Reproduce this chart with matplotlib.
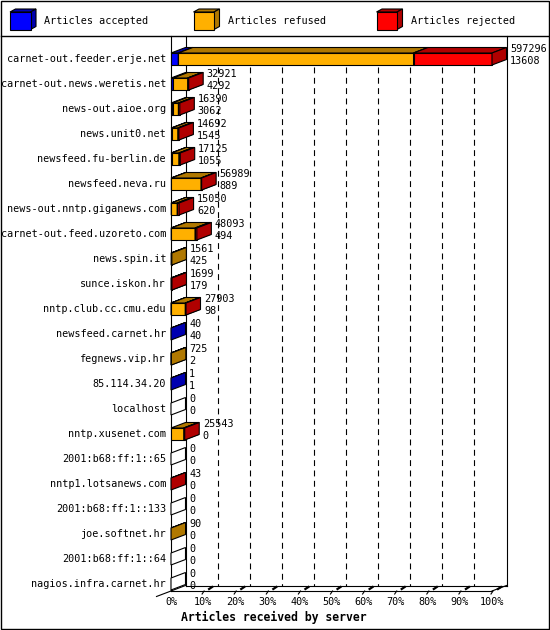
import matplotlib
matplotlib.use("Agg")
import matplotlib.pyplot as plt
from matplotlib.patches import Polygon, Rectangle
from matplotlib.lines import Line2D

# ---------------- data ----------------
hosts = [
    "carnet-out.feeder.erje.net", "carnet-out.news.weretis.net", "news-out.aioe.org",
    "news.unit0.net", "newsfeed.fu-berlin.de", "newsfeed.neva.ru",
    "news-out.nntp.giganews.com", "carnet-out.feed.uzoreto.com", "news.spin.it",
    "sunce.iskon.hr", "nntp.club.cc.cmu.edu", "newsfeed.carnet.hr", "fegnews.vip.hr",
    "85.114.34.20", "localhost", "nntp.xusenet.com", "2001:b68:ff:1::65",
    "nntp1.lotsanews.com", "2001:b68:ff:1::133", "joe.softnet.hr",
    "2001:b68:ff:1::64", "nagios.infra.carnet.hr",
]
offered = [597296, 32921, 16390, 14692, 17125, 56989, 15050, 48093, 1561, 1699,
           27903, 40, 725, 1, 0, 25543, 0, 43, 0, 90, 0, 0]
accepted = [13608, 4292, 3062, 1545, 1055, 889, 620, 494, 425, 179,
            98, 40, 2, 1, 0, 0, 0, 0, 0, 0, 0, 0]
rejected = [146000, 1900, 2500, 2000, 2500, 1100, 3500, 3300, 0, 520,
            1300, 0, 0, 0, 0, 1800, 0, 43, 0, 0, 0, 0]
refused = [o - a - r for o, a, r in zip(offered, accepted, rejected)]

series_names = ["Articles accepted", "Articles refused", "Articles rejected"]
front_colors = ["#0000ff", "#ffb000", "#ff0000"]
dark_colors = ["#0000b0", "#b07800", "#b00000"]
x_ticks = list(range(0, 101, 10))
x_title = "Articles received by server"

# ---------------- layout ----------------
W, H = 550, 630
fig = plt.figure(figsize=(W / 100, H / 100), dpi=100)
FONT = "DejaVu Sans Mono"
FS = 7.3

# overlay axes in pixel coords for frame / legend
ov = fig.add_axes([0, 0, 1, 1])
ov.set_xlim(0, W)
ov.set_ylim(H, 0)
ov.axis("off")
ov.add_patch(Rectangle((0.5, 0.5), W - 2, H - 2, fill=False, lw=1.0, ec="black"))
ov.plot([0.5, W - 1.5], [35.5, 35.5], color="black", lw=1.0)

leg_x = [10, 193.5, 376.5]
for k, name in enumerate(series_names):
    x0, y0, w, h, dx, dy = leg_x[k], 12, 20.5, 17.5, 5.5, 3
    ov.add_patch(Polygon([(x0, y0), (x0 + w, y0), (x0 + w + dx, y0 - dy), (x0 + dx, y0 - dy)],
                         closed=True, fc=dark_colors[k], ec="black", lw=0.8))
    ov.add_patch(Polygon([(x0 + w, y0), (x0 + w, y0 + h), (x0 + w + dx, y0 + h - dy), (x0 + w + dx, y0 - dy)],
                         closed=True, fc=dark_colors[k], ec="black", lw=0.8))
    ov.add_patch(Rectangle((x0, y0), w, h, fc=front_colors[k], ec="black", lw=0.8))
    ov.text(x0 + 34.5, 21.5, name, fontfamily=FONT, fontsize=FS, va="center", ha="left")

# main axes: x = percent of max offered, y = row index
L, R, T, B = 171, 492, 35.5, 591
ROW0, ROWH = 59, 25
ax = fig.add_axes([L / W, 1 - B / H, (R - L) / W, (B - T) / H])
ax.set_xlim(0, 100)
ax.set_ylim((B - ROW0) / ROWH, (T - ROW0) / ROWH)
ax.axis("off")
ax.patch.set_alpha(0)

px_x = 100 / (R - L)
px_y = 1 / ROWH
ddx = 14.5 * px_x
ddy = 5.5 * px_y
ybot = (B - ROW0) / ROWH
ytop = (T - ROW0) / ROWH
half = 6 * px_y
lw = 0.8

def line(xs, ys, **kw):
    ax.add_line(Line2D(xs, ys, color=kw.pop("color", "black"), lw=kw.pop("lw", lw),
                       clip_on=False, **kw))

# back plane and floor
for t in x_ticks[1:-1]:
    line([t + ddx, t + ddx], [0.3, ybot - ddy], ls=(0, (5.3, 4)), zorder=1)
line([ddx, ddx], [ytop, ybot - ddy], zorder=1)
line([100 + ddx, 100 + ddx], [ytop, ybot - ddy], zorder=1)
line([ddx, 100 + ddx], [ybot - ddy, ybot - ddy], zorder=1)
line([0, 0], [ytop, ybot], zorder=1)
line([0, 100], [ybot, ybot], zorder=1)
line([100, 100 + ddx], [ybot, ybot - ddy], zorder=1)
line([0, ddx], [ybot, ybot - ddy], zorder=1)
line([-ddx, 0], [ybot + ddy, ybot], zorder=1)
for t in x_ticks[1:]:
    line([t - 1 * px_x, t + 1 * px_x], [ybot + 3 * px_y, ybot], zorder=2)
    line([t + 6 * px_x, t + 9 * px_x], [ybot - 2 * px_y, ybot - 4 * px_y], lw=1.6, zorder=2)
    ax.annotate(f"{t}%", (t, ybot), xytext=(0, -11 * 0.72), textcoords="offset points",
                ha="center", va="center", fontfamily=FONT, fontsize=FS, annotation_clip=False)
ax.annotate(f"{0}%", (0, ybot), xytext=(0, -11 * 0.72), textcoords="offset points",
            ha="center", va="center", fontfamily=FONT, fontsize=FS, annotation_clip=False)

ax.text(0.321, -0.047, x_title, transform=ax.transAxes, ha="center", va="center",
        fontfamily=FONT, fontsize=8.3, fontweight="bold")

# bars
maxv = max(offered)

def seg(x0, x1, yc, k, z):
    yt, yb = yc - half, yc + half
    ax.add_patch(Rectangle((x0, yt), x1 - x0, yb - yt, fc=front_colors[k], ec="black",
                           lw=lw, clip_on=False, zorder=z))
    ax.add_patch(Polygon([(x0, yt), (x1, yt), (x1 + ddx, yt - ddy), (x0 + ddx, yt - ddy)],
                         closed=True, fc=dark_colors[k], ec="black", lw=lw, clip_on=False, zorder=z))
    ax.add_patch(Polygon([(x1, yt), (x1, yb), (x1 + ddx, yb - ddy), (x1 + ddx, yt - ddy)],
                         closed=True, fc=dark_colors[k], ec="black", lw=lw, clip_on=False, zorder=z))

for i, host in enumerate(hosts):
    vals = [accepted[i], refused[i], rejected[i]]
    z = 3 + i * 0.01
    start = 0.0
    if offered[i] == 0:
        yt, yb = i - half, i + half
        ax.add_patch(Polygon([(0, yt), (0, yb), (ddx, yb - ddy), (ddx, yt - ddy)], closed=True,
                             fc="white", ec="black", lw=lw, clip_on=False, zorder=z))
    else:
        for k, v in enumerate(vals):
            if v <= 0:
                continue
            end = start + v / maxv * 100
            seg(start, end, i, k, z)
            start = end
    ax.annotate(host, (0, i), xytext=(-5 * 0.72, 0), textcoords="offset points",
                ha="right", va="center", fontfamily=FONT, fontsize=FS, annotation_clip=False)
    xe = offered[i] / maxv * 100 + ddx
    ax.annotate(str(offered[i]), (xe, i), xytext=(3.5 * 0.72, 10 * 0.72), textcoords="offset points",
                ha="left", va="center", fontfamily=FONT, fontsize=FS, annotation_clip=False, zorder=10)
    ax.annotate(str(accepted[i]), (xe, i), xytext=(3.5 * 0.72, -2 * 0.72), textcoords="offset points",
                ha="left", va="center", fontfamily=FONT, fontsize=FS, annotation_clip=False, zorder=10)

fig.savefig("out.png", dpi=100)
